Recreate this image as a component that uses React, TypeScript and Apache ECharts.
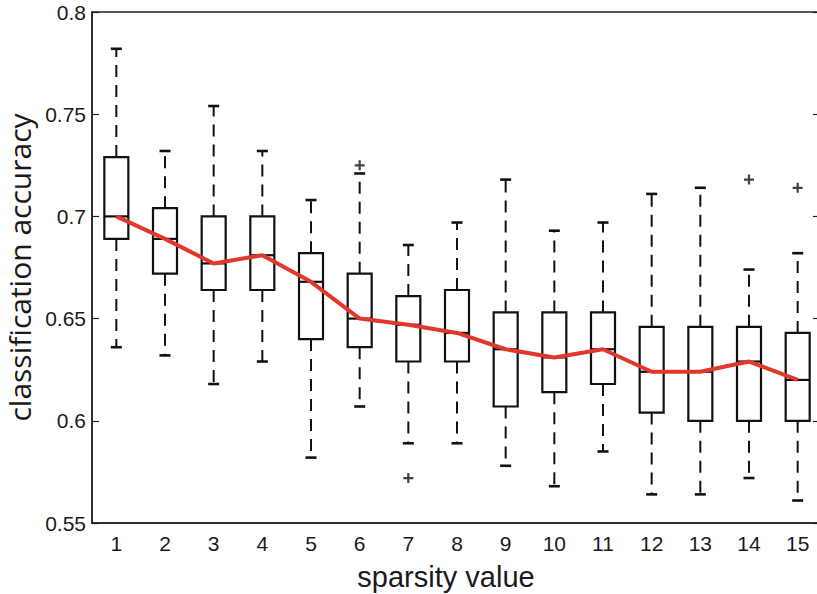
import React, { useEffect, useRef } from "react";
import * as echarts from "echarts";

const categories = ["1", "2", "3", "4", "5", "6", "7", "8", "9", "10", "11", "12", "13", "14", "15"];
const whiskerLow = [0.636, 0.632, 0.618, 0.629, 0.582, 0.607, 0.589, 0.589, 0.578, 0.568, 0.585, 0.564, 0.564, 0.572, 0.561];
const q1 = [0.689, 0.672, 0.664, 0.664, 0.64, 0.636, 0.629, 0.629, 0.607, 0.614, 0.618, 0.604, 0.6, 0.6, 0.6];
const median = [0.7, 0.689, 0.677, 0.681, 0.668, 0.65, 0.647, 0.643, 0.635, 0.631, 0.635, 0.624, 0.624, 0.629, 0.62];
const q3 = [0.729, 0.704, 0.7, 0.7, 0.682, 0.672, 0.661, 0.664, 0.653, 0.653, 0.653, 0.646, 0.646, 0.646, 0.643];
const whiskerHigh = [0.782, 0.732, 0.754, 0.732, 0.708, 0.721, 0.686, 0.697, 0.718, 0.693, 0.697, 0.711, 0.714, 0.674, 0.682];
const outlierCats = ["6", "7", "14", "15"];
const outlierValues = [0.725, 0.572, 0.718, 0.714];
const yTicks = { min: 0.55, max: 0.8, interval: 0.05 };

export default function App() {
  const ref = useRef<HTMLDivElement>(null);
  useEffect(() => {
    if (!ref.current) return;
    const chart = echarts.init(ref.current, null, { renderer: "svg" });
    const boxData = categories.map((_, i) => [i, whiskerLow[i], q1[i], median[i], q3[i], whiskerHigh[i]]);
    const ink = "#111";
    const renderItem = (params: any, api: any) => {
      const idx = api.value(0);
      const pLow = api.coord([idx, api.value(1)]);
      const pQ1 = api.coord([idx, api.value(2)]);
      const pMed = api.coord([idx, api.value(3)]);
      const pQ3 = api.coord([idx, api.value(4)]);
      const pHigh = api.coord([idx, api.value(5)]);
      const x = pMed[0];
      const hw = 12;
      const cw = 5.5;
      const dash = { stroke: ink, lineWidth: 2, lineDash: [12, 8], fill: null };
      const solid = { stroke: ink, lineWidth: 2.2, fill: null };
      return {
        type: "group",
        children: [
          { type: "line", shape: { x1: x, y1: pQ3[1], x2: x, y2: pHigh[1] }, style: dash },
          { type: "line", shape: { x1: x, y1: pQ1[1], x2: x, y2: pLow[1] }, style: dash },
          { type: "line", shape: { x1: x - cw, y1: pHigh[1], x2: x + cw, y2: pHigh[1] }, style: { ...solid, lineWidth: 2.6 } },
          { type: "line", shape: { x1: x - cw, y1: pLow[1], x2: x + cw, y2: pLow[1] }, style: { ...solid, lineWidth: 2.6 } },
          { type: "rect", shape: { x: x - hw, y: pQ3[1], width: hw * 2, height: pQ1[1] - pQ3[1] }, style: { stroke: ink, lineWidth: 2.2, fill: "#fff" } },
          { type: "line", shape: { x1: x - hw, y1: pMed[1], x2: x + hw, y2: pMed[1] }, style: solid },
        ],
      };
    };
    chart.setOption({
      animation: false,
      backgroundColor: "#fff",
      grid: {
        left: 92,
        top: 12,
        right: -5,
        bottom: 71,
        containLabel: false,
        outerBoundsMode: "none",
        show: true,
        borderColor: "#222",
        borderWidth: 1.5,
        backgroundColor: "transparent",
      },
      xAxis: {
        type: "category",
        data: categories,
        boundaryGap: true,
        name: "sparsity value",
        nameLocation: "middle",
        nameGap: 39,
        nameTextStyle: { fontFamily: "Liberation Sans", fontSize: 29, color: "#1a1a1a", padding: [0, 22, 0, 0] },
        axisLine: { show: true, lineStyle: { color: "#222", width: 1.5 } },
        axisTick: { show: false },
        axisLabel: { fontFamily: "Liberation Sans", fontSize: 21, color: "#1a1a1a", margin: 10 },
        splitLine: { show: false },
      },
      yAxis: [
        {
          type: "value",
          min: yTicks.min,
          max: yTicks.max,
          interval: yTicks.interval,
          name: "classification accuracy",
          nameLocation: "middle",
          nameRotate: 90,
          nameGap: 55,
          nameTextStyle: { fontFamily: "Open Sans", fontSize: 30, lineHeight: 30, color: "#1a1a1a" },
          axisLine: { show: true, lineStyle: { color: "#222", width: 1.5 } },
          axisTick: { show: true, inside: true, length: 7, lineStyle: { color: "#222", width: 1.2 } },
          axisLabel: { fontFamily: "Liberation Sans", fontSize: 21, color: "#1a1a1a", margin: 6 },
          splitLine: { show: false },
        },
        {
          type: "value",
          position: "right",
          min: yTicks.min,
          max: yTicks.max,
          interval: yTicks.interval,
          axisLine: { show: false },
          axisTick: { show: true, inside: true, length: 9, lineStyle: { color: "#222", width: 1.2 } },
          axisLabel: { show: false },
          splitLine: { show: false },
        },
      ],
      series: [
        {
          type: "custom",
          renderItem,
          encode: { x: 0, y: [1, 2, 3, 4, 5] },
          data: boxData,
          z: 2,
        },
        {
          type: "line",
          data: median,
          symbol: "none",
          lineStyle: { color: "#e2382b", width: 4 },
          z: 5,
        },
        {
          type: "scatter",
          data: outlierCats.map((c, i) => [c, outlierValues[i]]),
          symbol: "path://M3.9,0H6.1V10H3.9ZM0,3.9H10V6.1H0Z",
          symbolSize: 10,
          itemStyle: { color: ink },
          z: 4,
        },
      ],
    });
    return () => chart.dispose();
  }, []);
  return <div ref={ref} style={{ position: "fixed", left: 0, top: 0, width: 817, height: 594 }} />;
}
